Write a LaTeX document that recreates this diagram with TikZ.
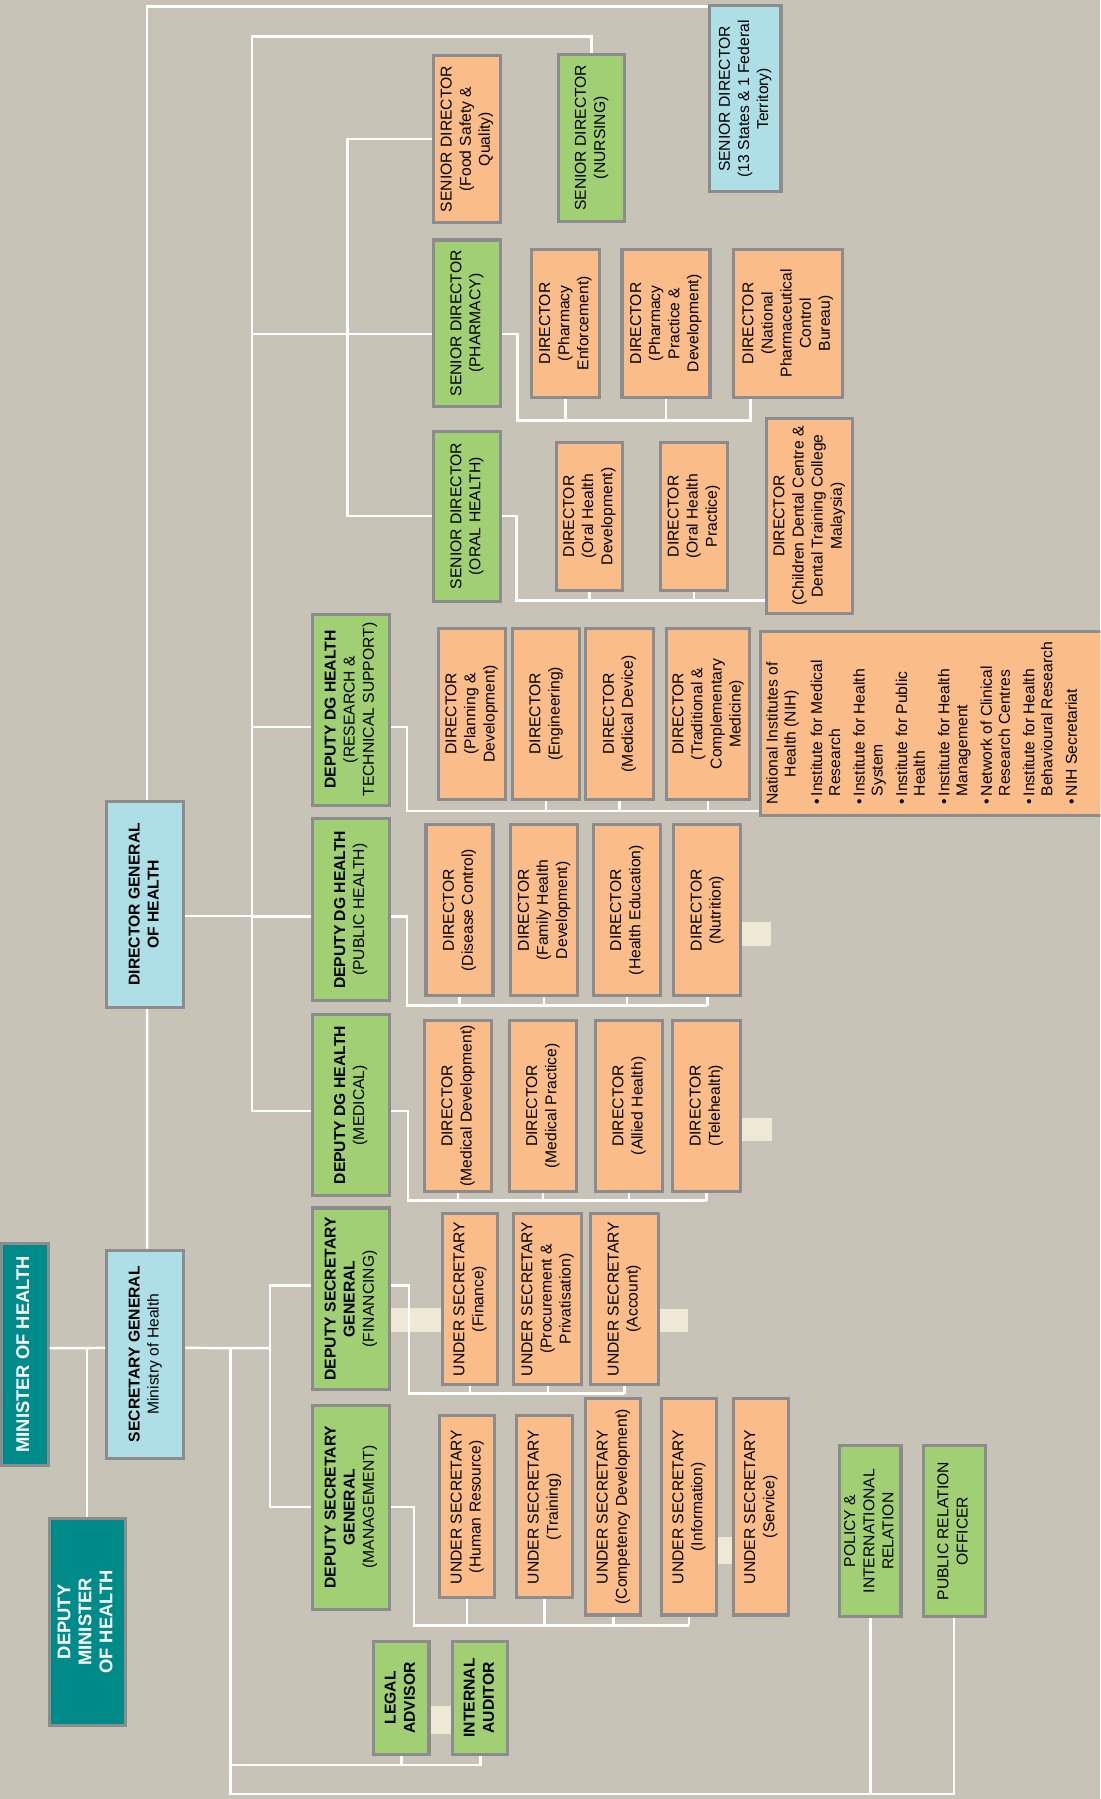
\documentclass[tikz,border=0pt]{standalone}
\usepackage{fontspec}
\setmainfont{Liberation Sans}
\usepackage{graphicx}
\usetikzlibrary{positioning,calc}

\definecolor{bgstone}{RGB}{199,195,182}
\definecolor{tealfill}{RGB}{0,139,139}
\definecolor{bluefill}{RGB}{174,222,230}
\definecolor{greenfill}{RGB}{160,207,116}
\definecolor{orangefill}{RGB}{250,189,138}
\definecolor{boxline}{RGB}{140,140,142}
\definecolor{cream}{RGB}{238,233,212}

\newcommand{\vlines}[1]{\rotatebox{90}{\begin{tabular}{@{}c@{}}#1\end{tabular}}}

\tikzset{
  orgbox/.style={draw=boxline, line width=1.6pt, inner sep=0pt, text=black, font=\fontsize{8.2}{10}\selectfont},
  tealbox/.style={orgbox, fill=tealfill, text=white, font=\fontsize{9.6}{11}\selectfont\bfseries},
  bluebox/.style={orgbox, fill=bluefill},
  greenbox/.style={orgbox, fill=greenfill},
  orangebox/.style={orgbox, fill=orangefill},
  link/.style={draw=white, line width=1.3pt},
  span/.style n args={4}{at={({(#1+#3)/2},{(#2+#4)/2})}, minimum width={(#3-#1)*0.6pt}, minimum height={(#4-#2)*0.6pt}},
}

\begin{document}
\begin{tikzpicture}[x=0.6pt, y=-0.6pt]
    \useasboundingbox (0,0) rectangle (959,1568);
    \clip (0,0) rectangle (959,1568);
    \fill[bgstone] (0,0) rectangle (959,1568);
    \fill[cream] (340,1140) rectangle (386,1161);
    \fill[cream] (574,1141) rectangle (600,1161);
    \fill[cream] (375.5,1486.7) rectangle (393.8,1511.7);
    \fill[cream] (625.6,1339.9) rectangle (638.4,1363.2);
    \fill[cream] (646.4,804) rectangle (671.7,824.7);
    \fill[cream] (646.4,974.7) rectangle (672.5,994.3);

    % top of the ministry
    \node[tealbox, span={1.5}{1083.6}{41.9}{1277.1}] (min) {\vlines{MINISTER OF HEALTH}};
    \node[tealbox, span={42.8}{1323.1}{109.2}{1504.0}] (dmin) {\vlines{DEPUTY\\MINISTER\\OF HEALTH}};
    \node[bluebox, span={93.0}{1089.6}{160.3}{1270.8}] (sg) {\vlines{\textbf{SECRETARY GENERAL}\\Ministry of Health}};
    \node[bluebox, span={93.0}{698.2}{160.2}{878.2}] (dg) {\vlines{\textbf{DIRECTOR GENERAL}\\\textbf{OF HEALTH}}};
    \node[bluebox, span={618.4}{5.2}{680.7}{167.2}] (sd13) {\vlines{SENIOR DIRECTOR\\(13 States \& 1 Federal\\Territory)}};

    % secretary general side
    \node[greenbox, span={272.2}{1052.9}{339.5}{1211.3}] (dsgf) {\vlines{\textbf{DEPUTY SECRETARY}\\\textbf{GENERAL}\\(FINANCING)}};
    \node[greenbox, span={272.2}{1224.7}{339.5}{1402.5}] (dsgm) {\vlines{\textbf{DEPUTY SECRETARY}\\\textbf{GENERAL}\\(MANAGEMENT)}};
    \node[greenbox, span={325.9}{1430.4}{373.9}{1529.4}] (legal) {\vlines{\textbf{LEGAL}\\\textbf{ADVISOR}}};
    \node[greenbox, span={394.7}{1430.4}{442.7}{1529.4}] (audit) {\vlines{\textbf{INTERNAL}\\\textbf{AUDITOR}}};
    \node[greenbox, span={732.1}{1259.8}{785.3}{1409.3}] (policy) {\vlines{POLICY \&\\INTERNATIONAL\\RELATION}};
    \node[greenbox, span={804.6}{1259.8}{858.7}{1409.3}] (pro) {\vlines{PUBLIC RELATION\\OFFICER}};

    % deputy DGs and senior directors
    \node[greenbox, span={272.2}{535.2}{339.4}{701.7}] (ddgr) {\vlines{\textbf{DEPUTY DG HEALTH}\\(RESEARCH \&\\TECHNICAL SUPPORT)}};
    \node[greenbox, span={272.2}{713.7}{339.4}{872.3}] (ddgp) {\vlines{\textbf{DEPUTY DG HEALTH}\\(PUBLIC HEALTH)}};
    \node[greenbox, span={272.2}{884.3}{339.4}{1042.2}] (ddgm) {\vlines{\textbf{DEPUTY DG HEALTH}\\(MEDICAL)}};
    \node[orangebox, span={377.7}{48.3}{436.4}{194.1}] (sdf) {\vlines{SENIOR DIRECTOR\\(Food Safety \&\\Quality)}};
    \node[greenbox, span={377.7}{209.2}{436.4}{354.4}] (sdp) {\vlines{SENIOR DIRECTOR\\(PHARMACY)}};
    \node[greenbox, span={377.7}{375.7}{436.4}{524.0}] (sdo) {\vlines{SENIOR DIRECTOR\\(ORAL HEALTH)}};
    \node[greenbox, span={486.9}{47.2}{544.5}{193.0}] (sdn) {\vlines{SENIOR DIRECTOR\\(NURSING)}};

    \coordinate (ddgx) at (219.6,31.7);
    \coordinate (sdx) at (302.7,0);
    \coordinate (phbus) at (451.1,366.4);
    \coordinate (phend) at (654.2,366.4);
    \coordinate (orbus) at (450.1,523.3);
    \coordinate (rsbus) at (354.7,706.8);
    \coordinate (phlbus) at (354.7,876.4);
    \coordinate (mdbus) at (355.6,1046.4);
    \coordinate (dsgx) at (235.5,1175);
    \coordinate (finbus) at (356.3,1214.7);
    \coordinate (mgbus) at (360.9,1416.6);
    \coordinate (lowx) at (200.9,1175);
    \coordinate (audbus) at (200.9,1538.4);
    \coordinate (lowbus) at (200.9,1563.4);

    % under secretaries
    \foreach \n/\xa/\xb/\txt in {usf/385.5/433.9/{(Finance)}, usp/447.9/507.0/{(Procurement \&\\Privatisation)}, usa/514.6/573.6/{(Account)}} {
        \node[orangebox, span={\xa}{1057.9}{\xb}{1206.4}] (\n) {\vlines{UNDER SECRETARY\\\txt}};
        \draw[link] (\n.south) -- (\n.south |- finbus);
    }
    \foreach \n/\xa/\xb/\ya/\yb/\txt in {ush/383.1/431.4/1234.1/1392.6/{(Human Resource)}, ust/450.4/498.7/1234.1/1392.6/{(Training)}, usc/510.6/558.6/1219.1/1407.6/{(Competency Development)}, usi/576.4/624.7/1219.1/1407.6/{(Information)}} {
        \node[orangebox, span={\xa}{\ya}{\xb}{\yb}] (\n) {\vlines{UNDER SECRETARY\\\txt}};
        \draw[link] (\n.south) -- (\n.south |- mgbus);
    }
    \node[orangebox, span={639.1}{1219.1}{687.4}{1407.6}] (uss) {\vlines{UNDER SECRETARY\\(Service)}};

    % directors
    \node[orangebox, span={381.8}{547.9}{440.2}{696.5}] (dpd) {\vlines{DIRECTOR\\(Planning \&\\Development)}};
    \foreach \n/\xa/\xb/\txt in {den/446.8/505.2/{(Engineering)}, dmd/510.6/569.4/{(Medical Device)}, dtc/581.1/653.4/{(Traditional \&\\Complementary\\Medicine)}} {
        \node[orangebox, span={\xa}{547.9}{\xb}{696.5}] (\n) {\vlines{DIRECTOR\\\txt}};
        \draw[link] (\n.south) -- (\n.south |- rsbus);
    }
    \foreach \n/\xa/\xb/\txt in {ddc/371.3/429.7/{(Disease Control)}, dfh/444.8/503.6/{(Family Health\\Development)}, dhe/517.2/575.6/{(Health Education)}, dnu/587.3/645.7/{(Nutrition)}} {
        \node[orangebox, span={\xa}{718.9}{\xb}{867.8}] (\n) {\vlines{DIRECTOR\\\txt}};
        \draw[link] (\n.south) -- (\n.south |- phlbus);
    }
    \foreach \n/\xa/\xb/\txt in {dmv/370.1/428.5/{(Medical Development)}, dmp/444.1/502.4/{(Medical Practice)}, dah/519.2/577.5/{(Allied Health)}, dth/586.1/645.3/{(Telehealth)}} {
        \node[orangebox, span={\xa}{889.5}{\xb}{1038.4}] (\n) {\vlines{DIRECTOR\\\txt}};
        \draw[link] (\n.south) -- (\n.south |- mdbus);
    }
    \foreach \n/\xa/\xb/\txt in {dpe/463.5/522.3/{(Pharmacy\\Enforcement)}, dpp/542.1/618.8/{(Pharmacy\\Practice \&\\Development)}} {
        \node[orangebox, span={\xa}{217.2}{\xb}{346.4}] (\n) {\vlines{DIRECTOR\\\txt}};
        \draw[link] (\n.south) -- (\n.south |- phbus);
    }
    \node[orangebox, span={639.4}{217.2}{734.0}{346.4}] (dnp) {\vlines{DIRECTOR\\(National\\Pharmaceutical\\Control\\Bureau)}};
    \foreach \n/\xa/\xb/\txt in {dod/484.9/542.5/{(Oral Health\\Development)}, dop/575.6/634.0/{(Oral Health\\Practice)}} {
        \node[orangebox, span={\xa}{385.4}{\xb}{514.6}] (\n) {\vlines{DIRECTOR\\\txt}};
        \draw[link] (\n.south) -- (\n.south |- orbus);
    }
    \node[orangebox, span={667.8}{364.7}{742.9}{535.0}] (dcd) {\vlines{DIRECTOR\\(Children Dental Centre \&\\Dental Training College\\Malaysia)}};

    % national institutes of health
    \node[orangebox, anchor=north west, minimum height=96.1pt, inner xsep=2.6pt, inner ysep=0pt, font=\fontsize{8.2}{9.4}\selectfont] (nih) at (661.2,549) {\rotatebox{90}{\begin{tabular}{@{}l@{\hspace{1.5pt}}l@{}}
        \multicolumn{2}{@{}l@{}}{\begin{tabular}{@{}c@{}}National Institutes of\\Health (NIH)\end{tabular}}\\[9pt]
        \textbullet & Institute for Medical\\
         & Research\\[3.4pt]
        \textbullet & Institute for Health\\
         & System\\[3.4pt]
        \textbullet & Institute for Public\\
         & Health\\[3.4pt]
        \textbullet & Institute for Health\\
         & Management\\[3.4pt]
        \textbullet & Network of Clinical\\
         & Research Centres\\[3.4pt]
        \textbullet & Institute for Health\\
         & Behavioural Research\\[3.4pt]
        \textbullet & NIH Secretariat\rule[-30pt]{0pt}{0pt}
    \end{tabular}}};

    % minister and director general links
    \draw[link] ([yshift=3.2pt]min.east) -- ([yshift=3.2pt]sg.west);
    \draw[link] ([yshift=3.2pt]min.east -| dmin.north) -- (dmin.north);
    \draw[link] ([xshift=1pt]sg.north) -- ([xshift=1pt]dg.south);
    \draw[link] ([xshift=1pt]dg.north) |- ([yshift=-1pt]sd13.north west);
    \draw[link] (sdn.north) |- (ddgx) |- ([yshift=-3pt]ddgm.west);
    \draw[link] ([yshift=-6pt]dg.east) -- ([yshift=-6pt]dg.east -| ddgx);
    \draw[link] ([yshift=-3.5pt]ddgp.west -| ddgx) -- ([yshift=-3.5pt]ddgp.west);
    \draw[link] ([yshift=-9pt]ddgr.west -| ddgx) -- ([yshift=-9pt]ddgr.west);
    \draw[link] ([yshift=-5.7pt]sdp.west -| ddgx) -- ([yshift=-5.7pt]sdp.west);
    \draw[link] (sdf.west) -| (sdx |- sdo.west) -- (sdo.west);

    % groups of directors
    \draw[link] ([yshift=-5.7pt]sdp.east) -| (phbus) -- (phend) -- (phend |- dnp.south);
    \draw[link] (sdo.east) -| (orbus) -- (orbus -| dcd.west);
    \draw[link] ([yshift=-9pt]ddgr.east) -| (rsbus) -- (rsbus -| nih.west);
    \draw[link] ([yshift=-3.5pt]ddgp.east) -| (phlbus) -- (phlbus -| dnu.south);
    \draw[link] ([yshift=-3pt]ddgm.east) -| (mdbus) -- (mdbus -| dth.south);

    % secretary general links
    \draw[link] ([yshift=3.2pt]sg.east) -- (dsgx);
    \draw[link] ([yshift=7pt]dsgf.west) -| (dsgx) |- (dsgm.west);
    \draw[link] ([yshift=7pt]dsgf.east) -| (finbus) -- (finbus -| usa.south);
    \draw[link] (dsgm.east) -| (mgbus) -- (mgbus -| usi.south);
    \draw[link] (lowx) -- (lowbus) -| (pro.south);
    \draw[link] (policy.south) -- (policy.south |- lowbus);
    \draw[link] (audbus) -| (audit.south);
    \draw[link] (legal.south) -- (legal.south |- audbus);
\end{tikzpicture}
\end{document}
